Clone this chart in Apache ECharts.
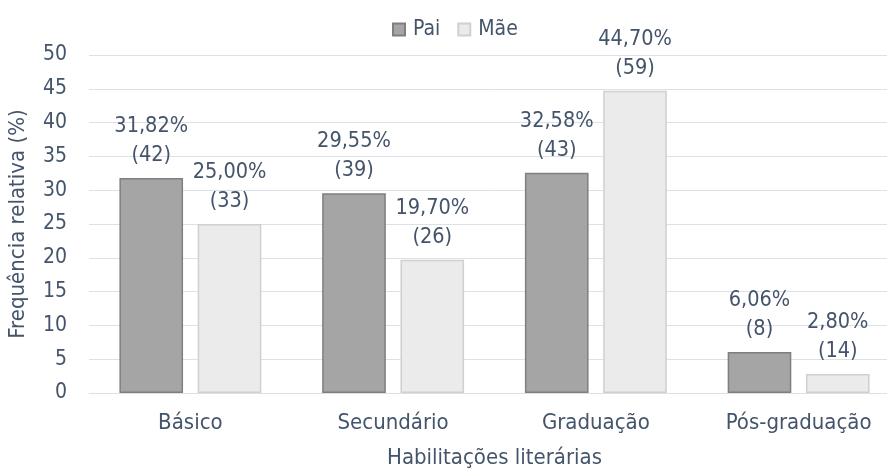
<!DOCTYPE html>
<html>
<head>
<meta charset="utf-8">
<script src="https://cdn.jsdelivr.net/npm/echarts@6/dist/echarts.min.js"></script>
<style>
  html, body { margin: 0; padding: 0; background: #fff; }
  #main { width: 887px; height: 469px; }
</style>
</head>
<body>
<div id="main"></div>
<script>
var categories = ['Básico', 'Secundário', 'Graduação', 'Pós-graduação'];
var paiPct = [31.82, 29.55, 32.58, 6.06];
var paiCount = [42, 39, 43, 8];
var maePct = [25.00, 19.70, 44.70, 2.80];
var maeCount = [33, 26, 59, 14];

var textColor = '#44546a';
var font = 'DejaVu Sans Condensed';

function fmt(pcts, counts) {
  return function (p) {
    return pcts[p.dataIndex].toFixed(2).replace('.', ',') + '%\n(' + counts[p.dataIndex] + ')';
  };
}

var chart = echarts.init(document.getElementById('main'));
chart.setOption({
  animation: false,
  textStyle: { fontFamily: font, color: textColor },
  legend: {
    top: 14,
    left: 387,
    itemWidth: 12,
    itemHeight: 12,
    itemGap: 17,
    icon: 'rect',
    textStyle: { fontSize: 21, color: textColor, fontFamily: font, padding: [0, 0, 0, 3] },
    data: ['Pai', 'Mãe']
  },
  // the source picture is cut off on the right, so the plot runs past the edge
  grid: { left: 89, right: -13, top: 55, bottom: 76, outerBoundsMode: 'none' },
  xAxis: {
    type: 'category',
    data: categories,
    name: 'Habilitações literárias',
    nameLocation: 'middle',
    nameGap: 54,
    nameTextStyle: { fontSize: 22, color: textColor, fontFamily: font },
    axisLine: { lineStyle: { color: '#dde1e6', width: 1 } },
    axisTick: { show: false },
    axisLabel: { fontSize: 22, color: textColor, margin: 19, fontFamily: font }
  },
  yAxis: {
    type: 'value',
    min: 0,
    max: 50,
    interval: 5,
    name: 'Frequência relativa (%)',
    nameLocation: 'middle',
    nameGap: 60,
    nameTextStyle: { fontSize: 22, color: textColor, fontFamily: font },
    axisLine: { show: false },
    axisTick: { show: false },
    axisLabel: { fontSize: 21, color: textColor, margin: 22, fontFamily: font },
    splitLine: { lineStyle: { color: '#dde1e6', width: 1 } }
  },
  series: [
    {
      name: 'Pai',
      type: 'bar',
      data: paiPct,
      barGap: '23%',
      barCategoryGap: '30%',
      itemStyle: { color: '#a5a5a5', borderColor: '#7f7f7f', borderWidth: 1.5 },
      label: {
        show: true,
        position: 'top',
        distance: 8,
        fontSize: 21.5,
        lineHeight: 29,
        color: textColor,
        fontFamily: font,
        formatter: fmt(paiPct, paiCount)
      }
    },
    {
      name: 'Mãe',
      type: 'bar',
      data: maePct,
      itemStyle: { color: '#ebebeb', borderColor: '#d0d0d0', borderWidth: 1.5 },
      label: {
        show: true,
        position: 'top',
        distance: 8,
        fontSize: 21.5,
        lineHeight: 29,
        color: textColor,
        fontFamily: font,
        formatter: fmt(maePct, maeCount)
      }
    }
  ]
});
</script>
</body>
</html>
